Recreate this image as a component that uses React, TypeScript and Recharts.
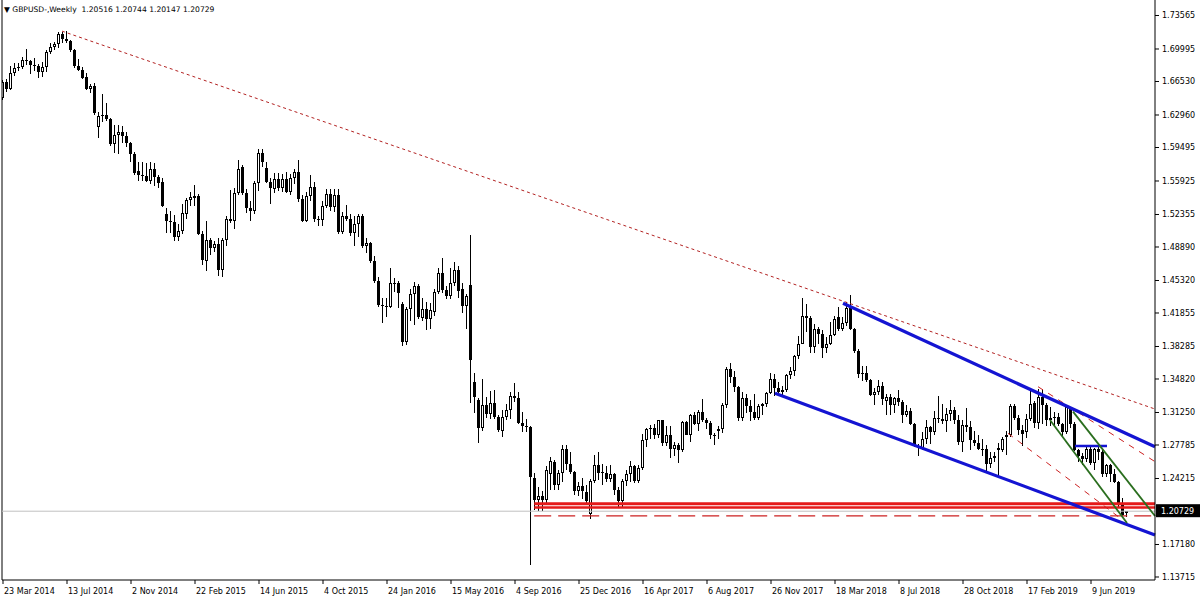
import React from "react";
import { ComposedChart, Bar, XAxis, YAxis, ReferenceLine } from "recharts";

// weekly GBPUSD candles [open, high, low, close], grouped by the year the week starts in
const weeks2014 = [
  [1.6480, 1.6665, 1.6460, 1.6650], [1.6650, 1.6680, 1.6545, 1.6575], [1.6575, 1.6820, 1.6560, 1.6740],
  [1.6740, 1.6845, 1.6710, 1.6800], [1.6800, 1.6850, 1.6760, 1.6810], [1.6810, 1.6910, 1.6790, 1.6880],
  [1.6880, 1.6996, 1.6830, 1.6870], [1.6870, 1.6880, 1.6730, 1.6830], [1.6830, 1.6900, 1.6760, 1.6820],
  [1.6820, 1.6840, 1.6690, 1.6750], [1.6750, 1.6860, 1.6700, 1.6810], [1.6810, 1.6990, 1.6750, 1.6965],
  [1.6965, 1.7063, 1.6950, 1.7020], [1.7020, 1.7070, 1.6990, 1.7050], [1.7050, 1.7180, 1.7010, 1.7160],
  [1.7160, 1.7185, 1.7060, 1.7110], [1.7110, 1.7192, 1.7060, 1.7080], [1.7080, 1.7100, 1.6970, 1.6990],
  [1.6990, 1.7000, 1.6800, 1.6820], [1.6820, 1.6890, 1.6770, 1.6780], [1.6780, 1.6810, 1.6680, 1.6690],
  [1.6700, 1.6740, 1.6560, 1.6570], [1.6570, 1.6630, 1.6530, 1.6600], [1.6600, 1.6640, 1.6300, 1.6320],
  [1.6170, 1.6330, 1.6050, 1.6280], [1.6280, 1.6525, 1.6220, 1.6300], [1.6300, 1.6420, 1.6230, 1.6250],
  [1.6250, 1.6260, 1.5970, 1.5990], [1.5990, 1.6190, 1.5890, 1.6080], [1.6080, 1.6190, 1.5875, 1.6110],
  [1.6110, 1.6180, 1.6000, 1.6070], [1.6070, 1.6110, 1.5960, 1.6000], [1.6000, 1.6010, 1.5790, 1.5880],
  [1.5880, 1.5900, 1.5660, 1.5680], [1.5700, 1.5790, 1.5590, 1.5660], [1.5660, 1.5800, 1.5590, 1.5650],
  [1.5650, 1.5780, 1.5580, 1.5590], [1.5590, 1.5790, 1.5560, 1.5720], [1.5720, 1.5785, 1.5540, 1.5640],
  [1.5640, 1.5660, 1.5520, 1.5570], [1.5580, 1.5620, 1.5310, 1.5330],
];

const weeks2015 = [
  [1.5240, 1.5300, 1.5040, 1.5170], [1.5170, 1.5270, 1.5035, 1.5160], [1.5160, 1.5230, 1.4950, 1.5000],
  [1.5000, 1.5130, 1.4950, 1.5060], [1.5060, 1.5350, 1.5030, 1.5250], [1.5240, 1.5410, 1.5190, 1.5390],
  [1.5390, 1.5480, 1.5330, 1.5420], [1.5410, 1.5552, 1.5330, 1.5430], [1.5430, 1.5450, 1.5020, 1.5030],
  [1.5030, 1.5060, 1.4700, 1.4750], [1.4740, 1.5165, 1.4635, 1.4960], [1.4960, 1.4990, 1.4800, 1.4880],
  [1.4880, 1.4950, 1.4840, 1.4920], [1.4920, 1.4990, 1.4585, 1.4640], [1.4640, 1.4990, 1.4565, 1.4960],
  [1.4960, 1.5220, 1.4900, 1.5190], [1.5190, 1.5500, 1.5140, 1.5165], [1.5165, 1.5520, 1.5085, 1.5460],
  [1.5460, 1.5815, 1.5440, 1.5720], [1.5740, 1.5760, 1.5440, 1.5460], [1.5460, 1.5510, 1.5250, 1.5300],
  [1.5300, 1.5380, 1.5170, 1.5270], [1.5270, 1.5590, 1.5240, 1.5570], [1.5570, 1.5930, 1.5490, 1.5890],
  [1.5890, 1.5930, 1.5740, 1.5800], [1.5730, 1.5800, 1.5570, 1.5580], [1.5580, 1.5620, 1.5350, 1.5520],
  [1.5510, 1.5680, 1.5460, 1.5610], [1.5610, 1.5680, 1.5490, 1.5520], [1.5520, 1.5670, 1.5470, 1.5610],
  [1.5610, 1.5690, 1.5460, 1.5480], [1.5480, 1.5670, 1.5440, 1.5620], [1.5620, 1.5725, 1.5560, 1.5690],
  [1.5690, 1.5820, 1.5370, 1.5400], [1.5400, 1.5440, 1.5160, 1.5170], [1.5170, 1.5470, 1.5160, 1.5430],
  [1.5430, 1.5660, 1.5380, 1.5530], [1.5530, 1.5580, 1.5160, 1.5190], [1.5190, 1.5220, 1.5110, 1.5180],
  [1.5180, 1.5380, 1.5110, 1.5330], [1.5330, 1.5510, 1.5300, 1.5450], [1.5450, 1.5510, 1.5270, 1.5320],
  [1.5320, 1.5510, 1.5260, 1.5440], [1.5440, 1.5510, 1.5025, 1.5050], [1.5050, 1.5260, 1.5030, 1.5220],
  [1.5220, 1.5340, 1.5170, 1.5190], [1.5190, 1.5240, 1.5010, 1.5040], [1.5040, 1.5220, 1.4900, 1.5130],
  [1.5130, 1.5240, 1.5000, 1.5220], [1.5220, 1.5240, 1.4880, 1.4900], [1.4900, 1.4990, 1.4830, 1.4930],
  [1.4930, 1.4940, 1.4715, 1.4740],
];

const weeks2016 = [
  [1.4740, 1.4790, 1.4510, 1.4530], [1.4530, 1.4570, 1.4250, 1.4270], [1.4270, 1.4350, 1.4080, 1.4260],
  [1.4260, 1.4350, 1.4140, 1.4250], [1.4250, 1.4670, 1.4240, 1.4500], [1.4490, 1.4560, 1.4410, 1.4510],
  [1.4510, 1.4530, 1.4240, 1.4400], [1.4280, 1.4300, 1.3835, 1.3880], [1.3880, 1.4250, 1.3840, 1.4230],
  [1.4230, 1.4440, 1.4100, 1.4385], [1.4385, 1.4515, 1.4055, 1.4470], [1.4470, 1.4490, 1.4120, 1.4140],
  [1.4130, 1.4340, 1.4100, 1.4230], [1.4230, 1.4300, 1.4005, 1.4120], [1.4120, 1.4290, 1.4010, 1.4220],
  [1.4200, 1.4440, 1.4150, 1.4410], [1.4410, 1.4665, 1.4390, 1.4610], [1.4610, 1.4770, 1.4400, 1.4430],
  [1.4430, 1.4470, 1.4330, 1.4370], [1.4370, 1.4670, 1.4330, 1.4500], [1.4500, 1.4730, 1.4470, 1.4640],
  [1.4640, 1.4690, 1.4350, 1.4420], [1.4440, 1.4510, 1.4190, 1.4260], [1.4260, 1.4390, 1.4010, 1.4370],
  [1.4480, 1.5018, 1.3228, 1.3680], [1.3450, 1.3550, 1.3120, 1.3290], [1.3260, 1.3280, 1.2800, 1.2960],
  [1.2960, 1.3480, 1.2930, 1.3200], [1.3200, 1.3290, 1.3070, 1.3110], [1.3110, 1.3350, 1.3060, 1.3230],
  [1.3230, 1.3370, 1.3060, 1.3080], [1.3080, 1.3100, 1.2920, 1.2940], [1.2930, 1.3150, 1.2860, 1.3080],
  [1.3080, 1.3220, 1.3050, 1.3150], [1.3150, 1.3340, 1.3060, 1.3300], [1.3300, 1.3440, 1.3240, 1.3280],
  [1.3280, 1.3340, 1.3000, 1.3010], [1.3010, 1.3130, 1.2920, 1.2980], [1.2980, 1.3060, 1.2920, 1.2970],
  [1.2970, 1.2980, 1.1500, 1.2440], [1.2430, 1.2480, 1.2090, 1.2190], [1.2190, 1.2330, 1.2080, 1.2240],
  [1.2240, 1.2290, 1.2080, 1.2190], [1.2190, 1.2550, 1.2140, 1.2510], [1.2470, 1.2650, 1.2300, 1.2610],
  [1.2600, 1.2620, 1.2300, 1.2350], [1.2350, 1.2510, 1.2300, 1.2480], [1.2480, 1.2775, 1.2380, 1.2740],
  [1.2740, 1.2775, 1.2510, 1.2580], [1.2580, 1.2705, 1.2470, 1.2490], [1.2490, 1.2500, 1.2250, 1.2290],
  [1.2290, 1.2380, 1.2240, 1.2340],
];

const weeks2017 = [
  [1.2340, 1.2430, 1.2200, 1.2290], [1.2280, 1.2350, 1.2160, 1.2180], [1.2040, 1.2415, 1.1986, 1.2390],
  [1.2390, 1.2670, 1.2370, 1.2560], [1.2560, 1.2705, 1.2410, 1.2480], [1.2480, 1.2580, 1.2350, 1.2490],
  [1.2480, 1.2550, 1.2380, 1.2420], [1.2420, 1.2570, 1.2380, 1.2470], [1.2470, 1.2480, 1.2250, 1.2300],
  [1.2300, 1.2330, 1.2110, 1.2180], [1.2180, 1.2420, 1.2110, 1.2400], [1.2400, 1.2510, 1.2340, 1.2470],
  [1.2470, 1.2610, 1.2380, 1.2550], [1.2550, 1.2560, 1.2370, 1.2400], [1.2400, 1.2560, 1.2370, 1.2530],
  [1.2530, 1.2900, 1.2510, 1.2830], [1.2830, 1.2960, 1.2760, 1.2950], [1.2950, 1.2990, 1.2840, 1.2960],
  [1.2960, 1.3000, 1.2840, 1.2880], [1.2880, 1.3050, 1.2850, 1.3040], [1.3040, 1.3050, 1.2770, 1.2800],
  [1.2800, 1.2980, 1.2770, 1.2890], [1.2890, 1.2980, 1.2640, 1.2740], [1.2740, 1.2810, 1.2660, 1.2780],
  [1.2780, 1.2800, 1.2590, 1.2720], [1.2720, 1.3030, 1.2700, 1.3020], [1.3020, 1.3030, 1.2880, 1.2890],
  [1.2890, 1.3110, 1.2810, 1.3100], [1.3100, 1.3125, 1.2990, 1.3000], [1.3000, 1.3150, 1.2930, 1.3130],
  [1.3130, 1.3265, 1.3020, 1.3040], [1.3040, 1.3070, 1.2950, 1.3010], [1.3010, 1.3030, 1.2840, 1.2880],
  [1.2880, 1.2910, 1.2775, 1.2890], [1.2930, 1.2980, 1.2845, 1.2950], [1.2950, 1.3225, 1.2910, 1.3200],
  [1.3200, 1.3615, 1.3170, 1.3590], [1.3590, 1.3657, 1.3440, 1.3500], [1.3500, 1.3570, 1.3340, 1.3400],
  [1.3400, 1.3410, 1.3030, 1.3070], [1.3070, 1.3340, 1.3030, 1.3280], [1.3280, 1.3320, 1.3120, 1.3190],
  [1.3190, 1.3260, 1.3030, 1.3130], [1.3130, 1.3320, 1.3040, 1.3070], [1.3070, 1.3220, 1.3040, 1.3190],
  [1.3190, 1.3230, 1.3100, 1.3220], [1.3220, 1.3340, 1.3180, 1.3330], [1.3330, 1.3550, 1.3320, 1.3480],
  [1.3480, 1.3530, 1.3300, 1.3390], [1.3390, 1.3450, 1.3300, 1.3340], [1.3340, 1.3410, 1.3300, 1.3360],
  [1.3360, 1.3530, 1.3340, 1.3520], [1.3520, 1.3610, 1.3480, 1.3570],
];

const weeks2018 = [
  [1.3570, 1.3740, 1.3510, 1.3730], [1.3730, 1.3940, 1.3700, 1.3860], [1.3860, 1.4345, 1.3850, 1.4150],
  [1.4150, 1.4280, 1.3980, 1.4130], [1.4130, 1.4150, 1.3760, 1.3820], [1.3820, 1.4070, 1.3760, 1.4020],
  [1.4020, 1.4040, 1.3860, 1.3960], [1.3960, 1.4000, 1.3710, 1.3810], [1.3810, 1.3930, 1.3760, 1.3850],
  [1.3850, 1.4090, 1.3840, 1.3950], [1.3950, 1.4150, 1.3940, 1.4120], [1.4140, 1.4245, 1.3990, 1.4010],
  [1.4010, 1.4140, 1.3990, 1.4080], [1.4080, 1.4300, 1.4050, 1.4240], [1.4240, 1.4377, 1.4000, 1.4010],
  [1.4010, 1.4030, 1.3760, 1.3780], [1.3780, 1.3800, 1.3490, 1.3540], [1.3540, 1.3620, 1.3460, 1.3550],
  [1.3550, 1.3620, 1.3450, 1.3470], [1.3470, 1.3480, 1.3300, 1.3310], [1.3310, 1.3390, 1.3200, 1.3340],
  [1.3340, 1.3470, 1.3310, 1.3410], [1.3410, 1.3450, 1.3210, 1.3270], [1.3250, 1.3320, 1.3100, 1.3290],
  [1.3290, 1.3320, 1.3100, 1.3200], [1.3200, 1.3290, 1.3120, 1.3280], [1.3280, 1.3360, 1.3190, 1.3240],
  [1.3240, 1.3260, 1.3010, 1.3100], [1.3100, 1.3210, 1.3080, 1.3140], [1.3140, 1.3170, 1.2990, 1.3000],
  [1.3000, 1.3010, 1.2760, 1.2770], [1.2770, 1.2790, 1.2660, 1.2750], [1.2750, 1.2920, 1.2730, 1.2840],
  [1.2840, 1.3040, 1.2790, 1.2970], [1.2970, 1.2985, 1.2785, 1.2920], [1.2920, 1.3140, 1.2890, 1.3070],
  [1.3070, 1.3298, 1.3010, 1.3060], [1.3060, 1.3220, 1.3000, 1.3030], [1.3030, 1.3170, 1.2920, 1.3110],
  [1.3110, 1.3260, 1.3030, 1.3150], [1.3150, 1.3180, 1.3000, 1.3050], [1.3050, 1.3100, 1.2775, 1.2810],
  [1.2810, 1.3040, 1.2700, 1.2990], [1.2990, 1.3175, 1.2920, 1.2970], [1.2970, 1.3030, 1.2725, 1.2830],
  [1.2830, 1.2930, 1.2770, 1.2800], [1.2800, 1.2880, 1.2720, 1.2740], [1.2740, 1.2840, 1.2660, 1.2740],
  [1.2740, 1.2780, 1.2475, 1.2580], [1.2580, 1.2700, 1.2530, 1.2640], [1.2640, 1.2700, 1.2600, 1.2660],
  [1.2750, 1.2800, 1.2440, 1.2730],
];

const weeks2019 = [
  [1.2730, 1.2860, 1.2700, 1.2840], [1.2860, 1.2930, 1.2670, 1.2880], [1.2880, 1.3215, 1.2860, 1.3190],
  [1.3190, 1.3220, 1.3040, 1.3070], [1.3070, 1.3100, 1.2890, 1.2940], [1.2940, 1.2990, 1.2770, 1.2900],
  [1.2920, 1.3110, 1.2850, 1.3060], [1.3060, 1.3350, 1.3030, 1.3220], [1.3230, 1.3250, 1.2960, 1.3010],
  [1.3010, 1.3380, 1.2950, 1.3290], [1.3290, 1.3380, 1.3000, 1.3200], [1.3200, 1.3230, 1.2980, 1.3040],
  [1.3040, 1.3180, 1.2980, 1.3070], [1.3070, 1.3130, 1.2980, 1.3080], [1.3080, 1.3120, 1.2980, 1.3000],
  [1.3000, 1.3010, 1.2870, 1.2920], [1.2920, 1.3200, 1.2900, 1.3180], [1.3180, 1.3180, 1.2960, 1.3000],
  [1.3000, 1.3020, 1.2710, 1.2720], [1.2720, 1.2740, 1.2600, 1.2660], [1.2660, 1.2690, 1.2560, 1.2630],
  [1.2630, 1.2760, 1.2600, 1.2740], [1.2740, 1.2760, 1.2560, 1.2590], [1.2590, 1.2750, 1.2510, 1.2740],
  [1.2740, 1.2780, 1.2620, 1.2700], [1.2700, 1.2720, 1.2440, 1.2470], [1.2470, 1.2580, 1.2440, 1.2570],
  [1.2570, 1.2580, 1.2380, 1.2470], [1.2470, 1.2520, 1.2370, 1.2380], [1.2380, 1.2390, 1.2120, 1.2160],
  [1.2160, 1.2210, 1.2015, 1.2030], [1.20516, 1.20744, 1.20147, 1.20729],
];

// x axis labels, one every 16 weeks
const tickWeeks = [0, 16, 32, 48, 64, 80, 96, 112, 128, 144, 160, 176, 192, 208, 224, 240, 256, 272];
const tickLabels = [
  "23 Mar 2014", "13 Jul 2014", "2 Nov 2014", "22 Feb 2015", "14 Jun 2015", "4 Oct 2015",
  "24 Jan 2016", "15 May 2016", "4 Sep 2016", "25 Dec 2016", "16 Apr 2017", "6 Aug 2017",
  "26 Nov 2017", "18 Mar 2018", "8 Jul 2018", "28 Oct 2018", "17 Feb 2019", "9 Jun 2019",
];
const priceTicks = [
  1.73565, 1.69995, 1.6653, 1.6296, 1.59495, 1.55925, 1.52355, 1.4889, 1.4532,
  1.41855, 1.38285, 1.3482, 1.3125, 1.27785, 1.24215, 1.1718, 1.13715,
];
const lastPrice = 1.20729;
const headerText = "GBPUSD-,Weekly  1.20516 1.20744 1.20147 1.20729";

// drawn objects, [fromWeek, fromPrice, toWeek, toPrice]
const longTrend = [14.75, 1.719, 288, 1.3162];
const channelTop = [210, 1.4289, 288, 1.2759];
const channelBottom = [193, 1.333, 288, 1.1819];
const greenChannel = [
  [261.75, 1.3045, 281, 1.1947],
  [267.5, 1.3134, 288, 1.2022],
];
const redFan = [
  [258.75, 1.34, 288, 1.2601],
  [251.25, 1.2903, 279.25, 1.2001],
];
const blueLevel = [268, 276, 1.2768];
const supportStart = 132.8;
const supportLines = [1.2153, 1.2112];
const supportDashed = 1.2022;

const candles = [...weeks2014, ...weeks2015, ...weeks2016, ...weeks2017, ...weeks2018, ...weeks2019];
const data = candles.map((c, i) => ({ i, o: c[0], h: c[1], l: c[2], c: c[3], range: [c[2], c[1]] }));

const FONT = "'DejaVu Sans', Verdana, sans-serif";

const Candle = (props: any) => {
  const { x, y, width, height, payload } = props;
  if (x == null || y == null) return null;
  const top = Math.min(y, y + height);
  const span = Math.abs(height);
  const ppu = span / (payload.h - payload.l || 1);
  const yOf = (v: number) => top + (payload.h - v) * ppu;
  const cx = Math.floor(x + width / 2 + 0.001);
  const bTop = Math.round(yOf(Math.max(payload.o, payload.c)));
  const bBot = Math.round(yOf(Math.min(payload.o, payload.c)));
  const bh = Math.max(1, bBot - bTop);
  const up = payload.c > payload.o;
  const wTop = Math.round(top);
  const wh = Math.max(1, Math.round(top + span) - wTop);
  return (
    <g shapeRendering="crispEdges">
      <rect x={cx} y={wTop} width={1} height={wh} fill="#000" />
      <rect x={cx - 1} y={bTop} width={3} height={bh} fill="#000" />
      {up && bh > 2 && <rect x={cx} y={bTop + 1} width={1} height={bh - 2} fill="#fff" />}
    </g>
  );
};

const DateTick = ({ x, y, payload }: any) => {
  const k = tickWeeks.indexOf(payload.value);
  return (
    <text x={x + 1} y={y} dy={8} fontSize={8} fontFamily={FONT} fill="#000" textAnchor="start">
      {tickLabels[k]}
    </text>
  );
};

const PriceTag = ({ viewBox }: any) => {
  if (!viewBox) return null;
  const right = viewBox.x + viewBox.width;
  return (
    <g>
      <rect x={right + 1} y={viewBox.y - 7} width={44} height={13} fill="#000" />
      <text x={right + 6} y={viewBox.y} dy="0.35em" fontSize={8} fontFamily={FONT} fill="#fff">
        {lastPrice.toFixed(5)}
      </text>
    </g>
  );
};

const seg = (s: number[]) => [
  { x: s[0], y: s[1] },
  { x: s[2], y: s[3] },
];

const App = () => {
  return (
    <div style={{ position: "absolute", left: 0, top: 0, width: 1200, height: 600, background: "#fff" }}>
      <ComposedChart width={1200} height={600} data={data} margin={{ top: 0, right: 0, bottom: 0, left: 2 }}>
        <XAxis
          dataKey="i"
          type="number"
          domain={[-0.25, 288]}
          allowDataOverflow
          ticks={tickWeeks}
          interval={0}
          height={20}
          tickSize={4}
          tick={<DateTick />}
          axisLine={{ stroke: "#000" }}
          tickLine={{ stroke: "#000" }}
        />
        <YAxis
          orientation="right"
          type="number"
          domain={[1.13395, 1.75217]}
          allowDataOverflow
          ticks={priceTicks}
          interval={0}
          width={45}
          tickSize={4}
          tickMargin={3}
          tickFormatter={(v: number) => v.toFixed(5)}
          tick={{ fontSize: 8, fill: "#000", fontFamily: FONT }}
          axisLine={{ stroke: "#000" }}
          tickLine={{ stroke: "#000" }}
        />
        <ReferenceLine x={-0.25} stroke="#000" />
        <ReferenceLine y={lastPrice} stroke="#c0c0c0" label={<PriceTag />} />
        <Bar dataKey="range" barSize={3} shape={<Candle />} isAnimationActive={false} />
        <ReferenceLine segment={seg(longTrend)} stroke="#b32222" strokeDasharray="3 3" />
        {supportLines.map((p, k) => (
          <ReferenceLine key={"s" + k} segment={seg([supportStart, p, 288, p])} stroke="#e51a1a" strokeWidth={k === 0 ? 3 : 2.4} />
        ))}
        <ReferenceLine segment={seg([supportStart, supportDashed, 288, supportDashed])} stroke="#cc2020" strokeWidth={1.2} strokeDasharray="17 7" />
        {redFan.map((s, k) => (
          <ReferenceLine key={"r" + k} segment={seg(s)} stroke="#cc2020" strokeDasharray="6 6" />
        ))}
        <ReferenceLine segment={seg(channelTop)} stroke="#1414d2" strokeWidth={3.2} />
        <ReferenceLine segment={seg(channelBottom)} stroke="#1414d2" strokeWidth={3.2} />
        <ReferenceLine segment={seg([blueLevel[0], blueLevel[2], blueLevel[1], blueLevel[2]])} stroke="#1414d2" strokeWidth={2.5} />
        {greenChannel.map((s, k) => (
          <ReferenceLine key={"g" + k} segment={seg(s)} stroke="#2a6e1e" strokeWidth={1.8} />
        ))}
      </ComposedChart>
      <div
        style={{
          position: "absolute",
          left: 4,
          top: 4,
          fontFamily: FONT,
          fontSize: 7.6,
          color: "#000",
          whiteSpace: "pre",
          lineHeight: "12px",
        }}
      >
        {"\u25BC " + headerText}
      </div>
    </div>
  );
};

export default App;
